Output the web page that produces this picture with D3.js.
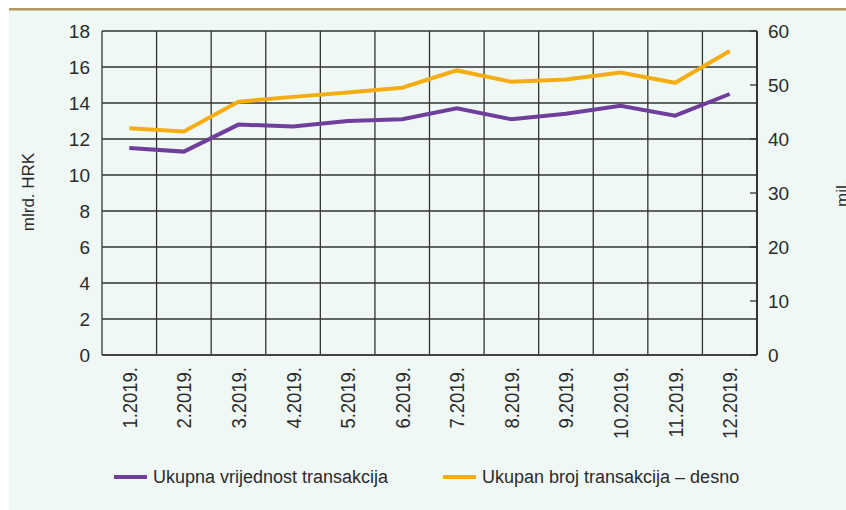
<!DOCTYPE html>
<html>
<head>
<meta charset="utf-8">
<script src="https://cdn.jsdelivr.net/npm/d3@7"></script>
<style>
  body { margin: 0; background: #ffffff; }
  svg { display: block; }
  text { font-family: "Liberation Sans Narrow", "Liberation Sans", Arial, sans-serif; fill: #2b2b2b; }
</style>
</head>
<body>
<svg id="chart" width="846" height="510"></svg>
<script>
// months on the x axis
const months = ["1.2019.", "2.2019.", "3.2019.", "4.2019.", "5.2019.", "6.2019.",
                "7.2019.", "8.2019.", "9.2019.", "10.2019.", "11.2019.", "12.2019."];
// total value of transactions, bn HRK (left axis)
const valueSeries = [11.5, 11.3, 12.8, 12.7, 13.0, 13.1, 13.7, 13.1, 13.4, 13.85, 13.3, 14.5];
// total number of transactions, millions (right axis)
const countSeries = [42.0, 41.4, 46.9, 47.8, 48.6, 49.5, 52.7, 50.6, 51.0, 52.3, 50.4, 56.3];
const leftTicks = [0, 2, 4, 6, 8, 10, 12, 14, 16, 18];
const rightTicks = [0, 10, 20, 30, 40, 50, 60];
const legendLabels = ["Ukupna vrijednost transakcija", "Ukupan broj transakcija – desno"];

const purple = "#6f3f9b";
const orange = "#f5ad14";
const gridCol = "#333333";

const svg = d3.select("#chart");

// panel background and top rule
svg.append("rect").attr("x", 9).attr("y", 9).attr("width", 837).attr("height", 501).attr("fill", "#eff8f5");
svg.append("rect").attr("x", 9).attr("y", 8).attr("width", 837).attr("height", 2.5).attr("fill", "#b39660");

let margin = {left: 102, top: 31, right: 89, bottom: 155};
let width = 846 - margin.left - margin.right;
let height = 510 - margin.top - margin.bottom;

let x = d3.scaleBand().domain(months).range([0, width]);
let yL = d3.scaleLinear().domain([0, 18]).range([height, 0]);
let yR = d3.scaleLinear().domain([0, 60]).range([height, 0]);

let g = svg.append("g").attr("transform", "translate(" + margin.left + "," + margin.top + ")");

// horizontal grid
g.append("g").selectAll("line").data(leftTicks).join("line")
    .attr("x1", 0).attr("x2", width)
    .attr("y1", d => yL(d)).attr("y2", d => yL(d))
    .attr("stroke", gridCol).attr("stroke-width", 1.3);

// vertical grid at band edges
let edges = months.map(m => x(m)).concat([width]);
g.append("g").selectAll("line").data(edges).join("line")
    .attr("x1", d => d).attr("x2", d => d)
    .attr("y1", 0).attr("y2", height)
    .attr("stroke", gridCol).attr("stroke-width", 1.3);

// bottom axis line a bit heavier
g.append("line").attr("x1", 0).attr("x2", width).attr("y1", height).attr("y2", height)
    .attr("stroke", "#444").attr("stroke-width", 2);
g.append("line").attr("x1", width).attr("x2", width).attr("y1", 0).attr("y2", height)
    .attr("stroke", "#333").attr("stroke-width", 2);

// left tick labels
g.append("g").selectAll("text").data(leftTicks).join("text")
    .attr("x", -12).attr("y", d => yL(d)).attr("dy", "0.35em")
    .attr("text-anchor", "end").style("font-size", "19px")
    .text(d => d);

// right ticks (inward marks) and labels
g.append("g").selectAll("line").data(rightTicks).join("line")
    .attr("x1", width - 7).attr("x2", width)
    .attr("y1", d => yR(d)).attr("y2", d => yR(d))
    .attr("stroke", gridCol).attr("stroke-width", 1.3);
g.append("g").selectAll("text").data(rightTicks).join("text")
    .attr("x", width + 11).attr("y", d => yR(d)).attr("dy", "0.35em")
    .attr("text-anchor", "start").style("font-size", "19px")
    .text(d => d);

// x labels, rotated; squeezed a little to look condensed like the original
g.append("g").selectAll("text").data(months).join("text")
    .attr("transform", d => "translate(" + (x(d) + x.bandwidth() / 2 + 7.5) + "," + (height + 12) + ") rotate(-90) scale(0.88,1)")
    .attr("text-anchor", "end").style("font-size", "21px")
    .text(d => d);

// axis titles
svg.append("text")
    .attr("transform", "translate(34,192) rotate(-90)")
    .attr("text-anchor", "middle").style("font-size", "17px")
    .text("mlrd. HRK");
svg.append("text")
    .attr("transform", "translate(848,207) rotate(-90)")
    .attr("text-anchor", "start").style("font-size", "17px")
    .text("mil.");

// lines
let lineL = d3.line().x((d, i) => x(months[i]) + x.bandwidth() / 2).y(d => yL(d));
let lineR = d3.line().x((d, i) => x(months[i]) + x.bandwidth() / 2).y(d => yR(d));

g.append("path").attr("d", lineR(countSeries))
    .attr("fill", "none").attr("stroke", orange).attr("stroke-width", 4);
g.append("path").attr("d", lineL(valueSeries))
    .attr("fill", "none").attr("stroke", purple).attr("stroke-width", 4);

// legend
let legend = svg.append("g");
let legendItems = [{x: 114, color: purple, label: legendLabels[0]}, {x: 443, color: orange, label: legendLabels[1]}];
legendItems.forEach(function (it) {
    legend.append("line").attr("x1", it.x).attr("x2", it.x + 33).attr("y1", 477).attr("y2", 477)
        .attr("stroke", it.color).attr("stroke-width", 4);
    legend.append("text").attr("x", it.x + 39).attr("y", 477).attr("dy", "0.35em")
        .style("font-size", "18px").text(it.label);
});
</script>
</body>
</html>
